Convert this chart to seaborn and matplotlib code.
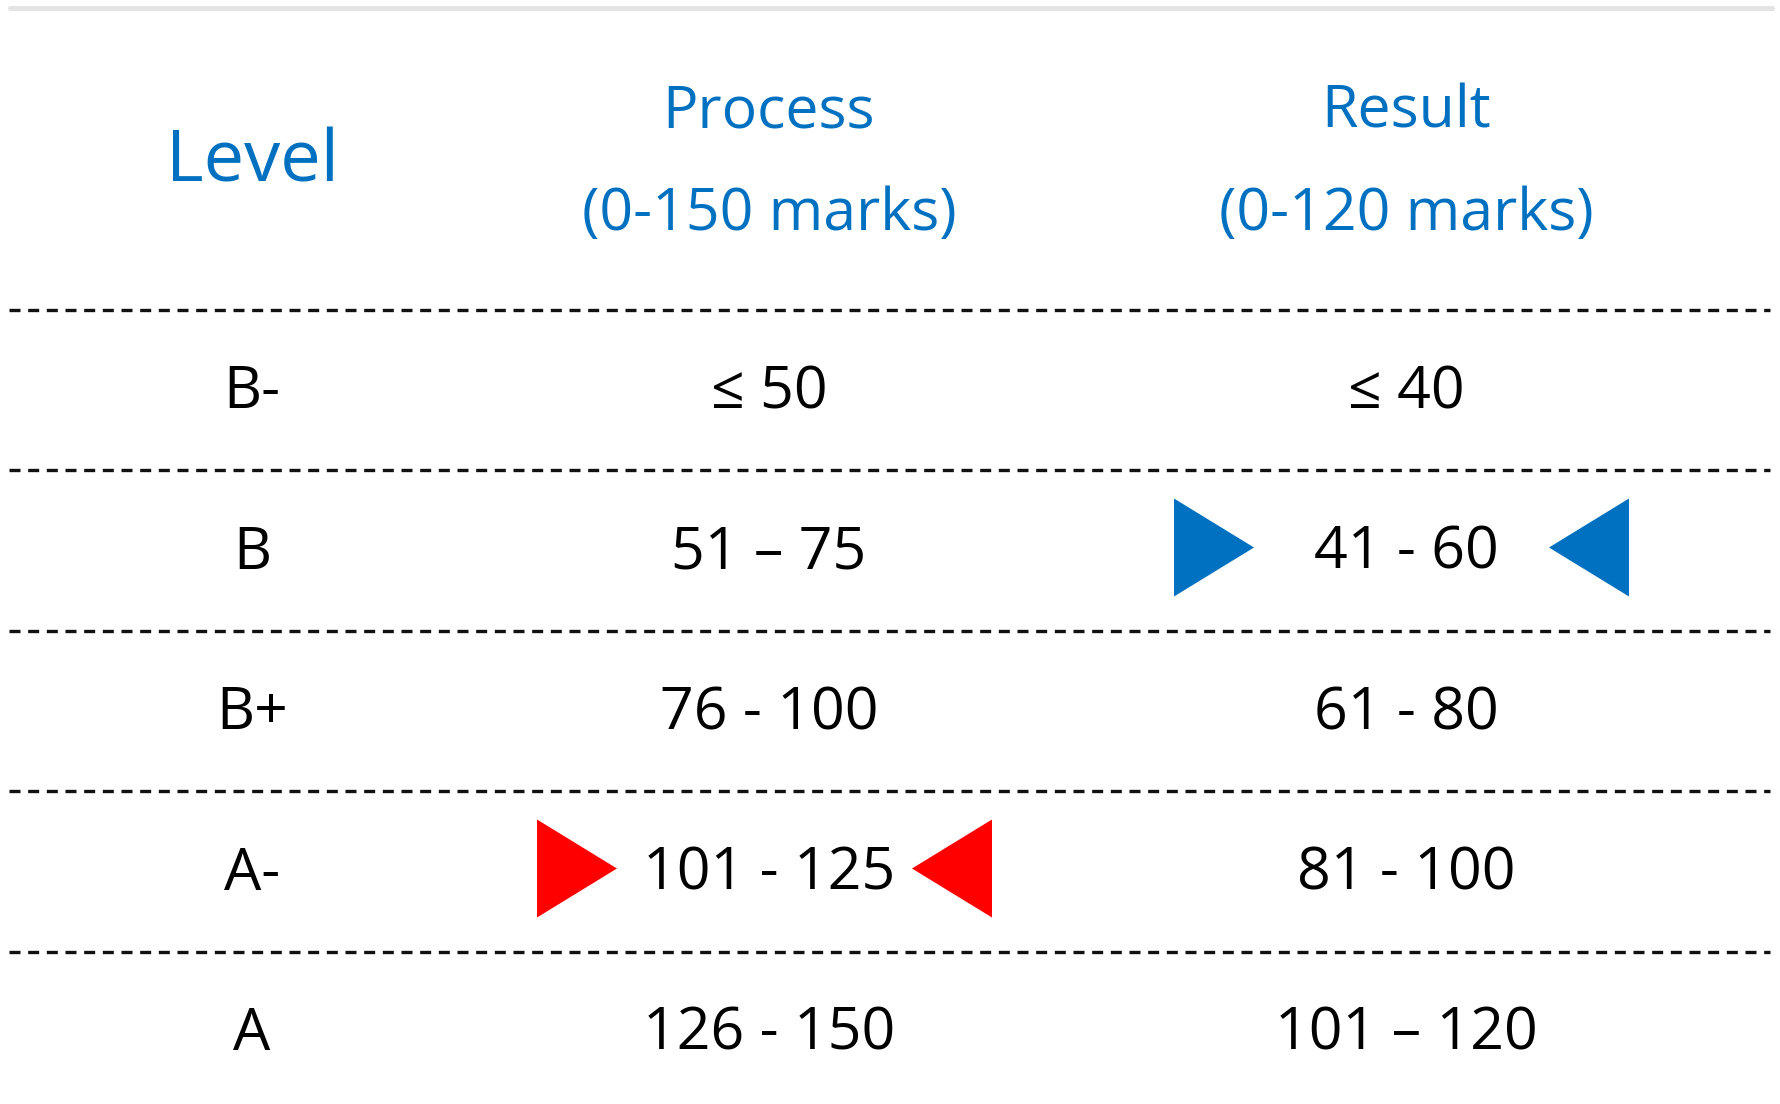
import matplotlib
matplotlib.use("Agg")
import matplotlib.pyplot as plt
import seaborn as sns

# grading table data
levels = ["B-", "B", "B+", "A-", "A"]
process_marks = ["≤ 50", "51 – 75", "76 - 100", "101 - 125", "126 - 150"]
result_marks = ["≤ 40", "41 - 60", "61 - 80", "81 - 100", "101 – 120"]
headers = ["Level", "Process\n(0-150 marks)", "Result\n(0-120 marks)"]

# highlighted cells: (row level, column index, colour)
highlights = [("B", 2, "#0070C0"), ("A-", 1, "#FF0000")]

BLUE = "#0070C0"
W, H = 1781, 1104

sns.set_theme(style="white")
plt.rcParams["font.family"] = ["Open Sans", "DejaVu Sans"]

fig = plt.figure(figsize=(W / 100, H / 100), dpi=100)
ax = fig.add_axes([0, 0, 1, 1])

# layout: column centres as fraction of width, rows in row units
col_x = [252 / W, 769 / W, 1406 / W]
row_px = 160.5
y_top = (0 - 387) / row_px
y_bot = (H - 387) / row_px
ax.set_xlim(0, 1)
ax.set_ylim(y_bot, y_top)
ax.axis("off")

# top grey rule
ax.axhline((8 - 387) / row_px, xmin=10 / W, xmax=1772 / W, color="#e4e4e4", lw=3.6)

# dashed row separators
for i in range(len(levels)):
    ax.axhline(i - 0.5 + 3 / row_px, xmin=9 / W, xmax=1770 / W, color="#111111",
               lw=2.4, linestyle=(0, (3.3, 2.3)))

# headers
ax.text(col_x[0], (181 - 387) / row_px, headers[0], ha="center", va="baseline",
        fontsize=52, color=BLUE)
for c in (1, 2):
    top, bottom = headers[c].split("\n")
    ax.text(col_x[c], (127 - 387) / row_px, top, ha="center", va="baseline",
            fontsize=42.5, color=BLUE)
    ax.text(col_x[c], (230 - 387) / row_px, bottom, ha="center", va="baseline",
            fontsize=42.5, color=BLUE)

# body
base = 21 / row_px
for i, (lv, p, r) in enumerate(zip(levels, process_marks, result_marks)):
    for c, txt in enumerate([lv, p, r]):
        ax.text(col_x[c], i + base, txt, ha="center", va="baseline",
                fontsize=42.5, color="black")

# triangles around highlighted cells
right_tri = [(-0.816, -1), (0.816, 0), (-0.816, 1)]
left_tri = [(0.816, -1), (-0.816, 0), (0.816, 1)]
for lv, c, colour in highlights:
    i = levels.index(lv)
    sns.scatterplot(x=[col_x[c] - 192 / W], y=[i], marker=right_tri, s=4980,
                    color=colour, edgecolor="none", linewidth=0, ax=ax, legend=False)
    sns.scatterplot(x=[col_x[c] + 183 / W], y=[i], marker=left_tri, s=4980,
                    color=colour, edgecolor="none", linewidth=0, ax=ax, legend=False)

fig.savefig("out.png", dpi=100, facecolor="white")
